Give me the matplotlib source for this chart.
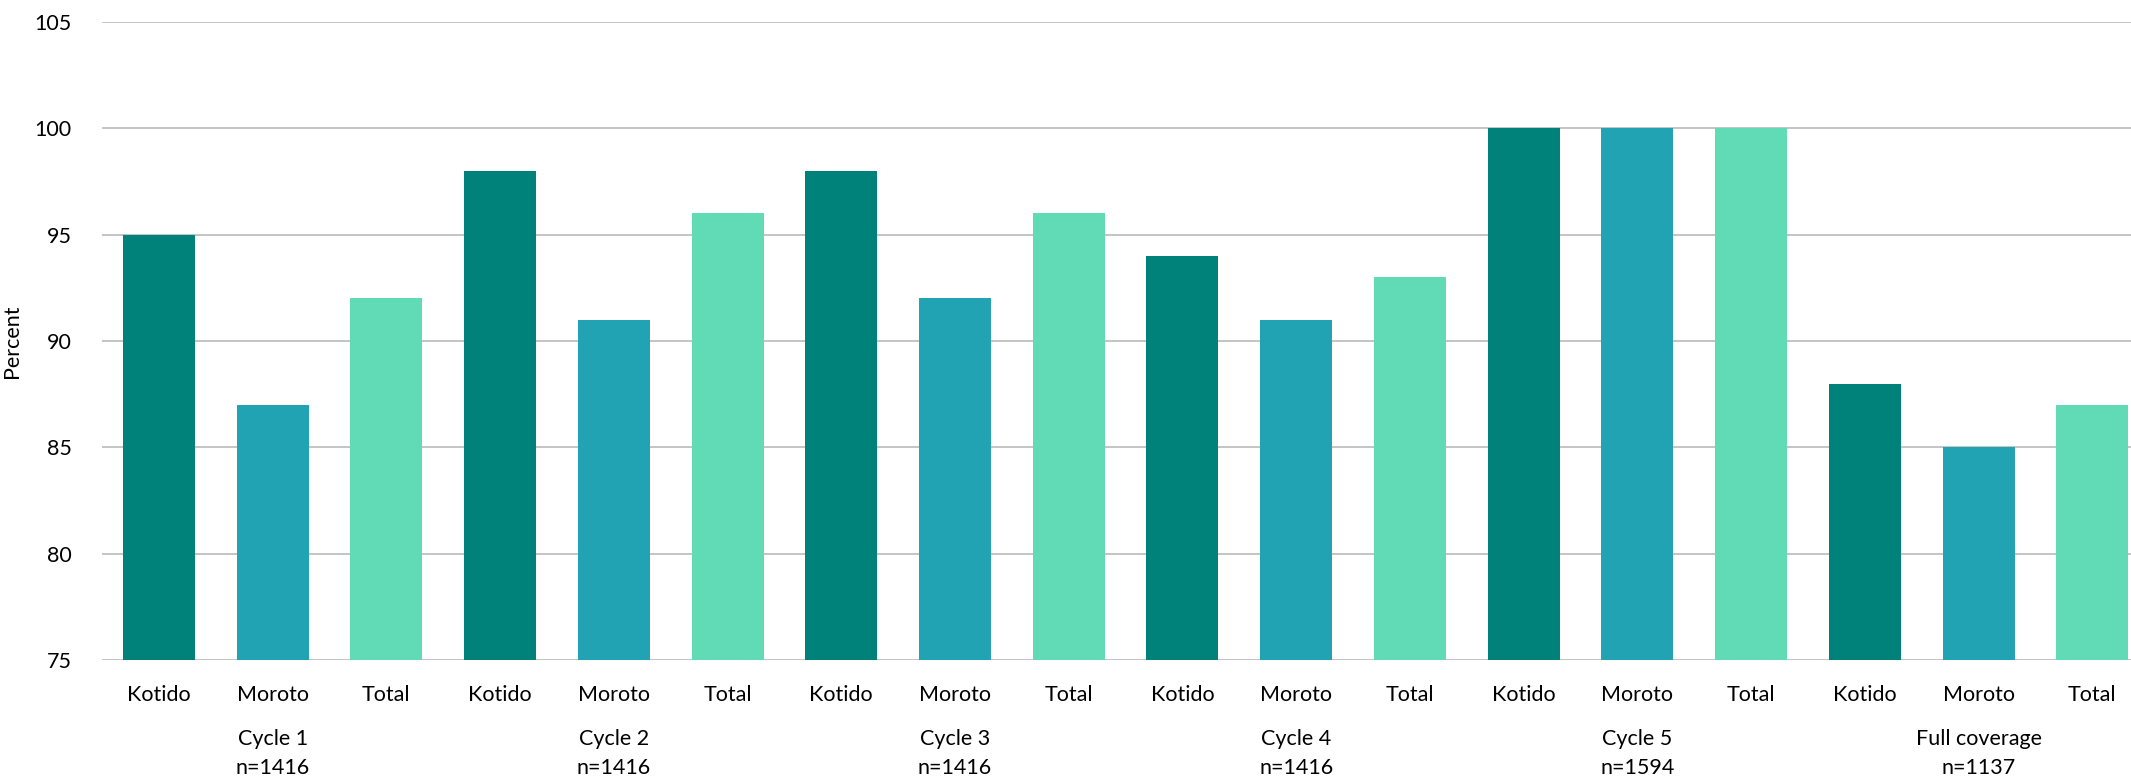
import matplotlib.pyplot as plt
import matplotlib.transforms as mtransforms
import numpy as np

plt.rcParams['font.family'] = ['Lato', 'DejaVu Sans']

# coverage by district for each cycle
groups = ['Cycle 1', 'Cycle 2', 'Cycle 3', 'Cycle 4', 'Cycle 5', 'Full coverage']
sample_sizes = ['n=1416', 'n=1416', 'n=1416', 'n=1416', 'n=1594', 'n=1137']
districts = ['Kotido', 'Moroto', 'Total']
kotido = [95, 98, 98, 94, 100, 88]
moroto = [87, 91, 92, 91, 100, 85]
total = [92, 96, 96, 93, 100, 87]

colors = ['#00827A', '#21A3B3', '#60DBB5']
series = [kotido, moroto, total]

fig = plt.figure(figsize=(21.31, 7.8), dpi=100)
ax = fig.add_axes([102 / 2131, 1 - 660 / 780, 1 - 102 / 2131, (660 - 22) / 780])

n_groups = len(groups)
n_dist = len(districts)
xpos = []
labels = []
for g in range(n_groups):
    for d in range(n_dist):
        idx = g * n_dist + d
        ax.bar(idx, series[d][g], bottom=0, width=0.633, color=colors[d], zorder=3)
        xpos.append(idx)
        labels.append(districts[d])

ax.set_ylim(75, 105)
ax.set_yticks(np.arange(75, 106, 5))
ax.set_xlim(-0.5, (2131 - 102) / 113.73 - 0.5)

ax.grid(axis='y', color='#BFBFBF', linewidth=1.3, zorder=0)
for s in ax.spines.values():
    s.set_visible(False)
ax.tick_params(axis='both', length=0, labelsize=15.5, colors='black')
ax.tick_params(axis='y', pad=22)
ax.tick_params(axis='x', pad=18)
ax.set_xticks(xpos)
ax.set_xticklabels(labels)
ax.set_ylabel('Percent', fontsize=15.5)
ax.yaxis.set_label_coords((22 - 102) / 2029, 0.5)

# group labels under each set of bars
trans = mtransforms.blended_transform_factory(ax.transData, ax.transAxes)
for g in range(n_groups):
    cx = g * n_dist + 1
    ax.text(cx, -79 / 638, groups[g], transform=trans, ha='center', va='center', fontsize=15.5)
    ax.text(cx, -108 / 638, sample_sizes[g], transform=trans, ha='center', va='center', fontsize=15.5)

fig.savefig('out.png', dpi=100)
